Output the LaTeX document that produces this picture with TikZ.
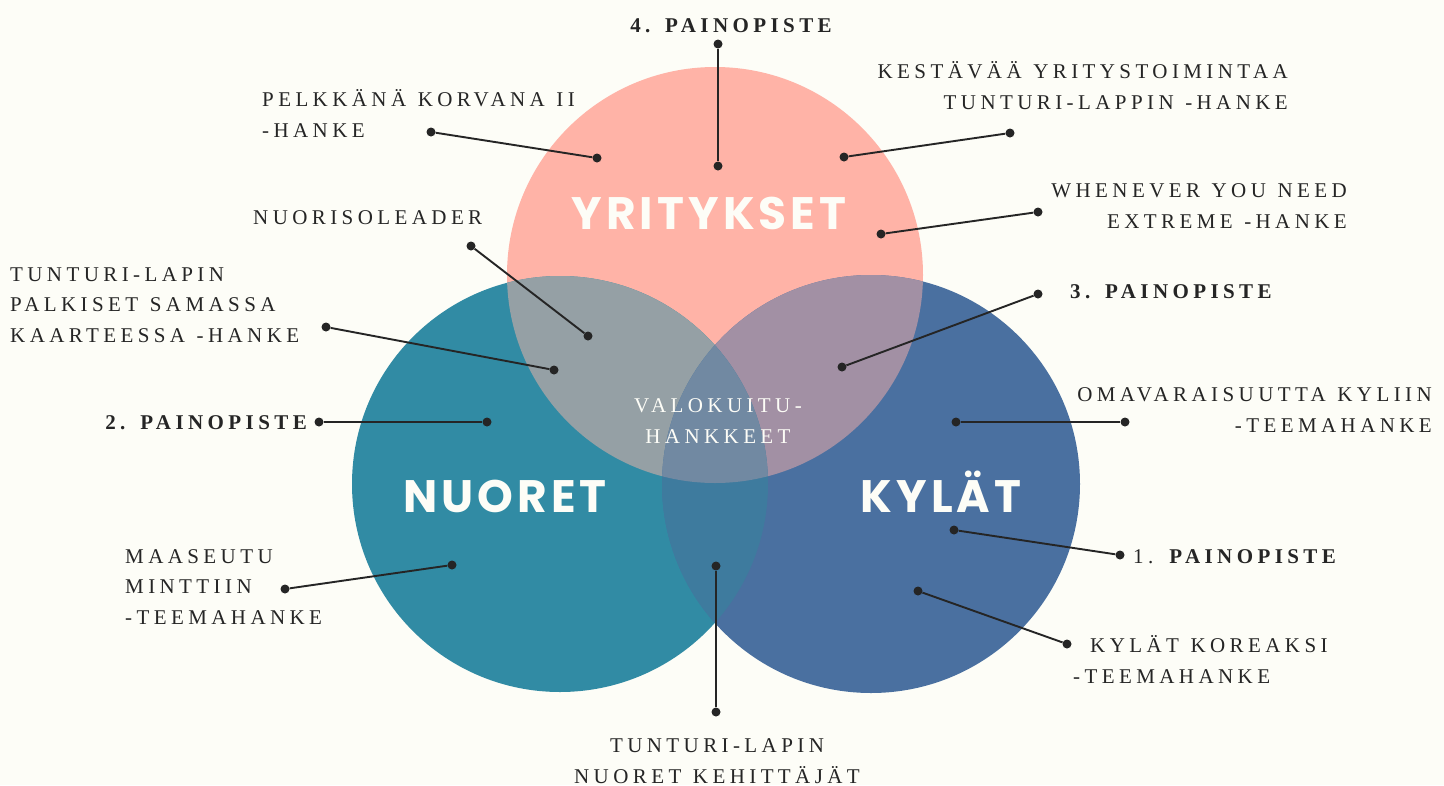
\documentclass[tikz,border=0pt]{standalone}
\usepackage{fontspec}
\setmainfont{Liberation Serif}
\newfontfamily\lblfont{Liberation Serif}[LetterSpace=21,WordSpace=1.2]
\newfontfamily\bigfont{Poppins}[LetterSpace=9]

\definecolor{bgcol}{HTML}{FDFDF7}
\definecolor{inkcol}{HTML}{252525}
\definecolor{ycol}{HTML}{FFB3A7}
\definecolor{ncol}{HTML}{318BA4}
\definecolor{kcol}{HTML}{4A70A0}
\definecolor{yncol}{HTML}{95A0A5}
\definecolor{ykcol}{HTML}{A290A4}
\definecolor{nkcol}{HTML}{3E7B9E}
\definecolor{allcol}{HTML}{7189A2}

\tikzstyle{dot} = [fill=inkcol, circle, inner sep=0pt, minimum size=9pt]
\tikzstyle{link} = [color=inkcol, line width=1.9pt]
\tikzstyle{lbl} = [font=\lblfont\fontsize{21}{30.5}\selectfont, text=inkcol, inner sep=0pt]
\tikzstyle{key} = [lbl, font=\lblfont\bfseries\fontsize{21}{30.5}\selectfont]
\tikzstyle{big} = [font=\bigfont\bfseries\fontsize{45.5}{50}\selectfont, text=bgcol, inner sep=0pt]

\begin{document}
\begin{tikzpicture}[x=1pt,y=-1pt]
\fill[bgcol] (0,0) rectangle (1444,785);
\useasboundingbox (0,0) rectangle (1444,785);

% the three circles
\coordinate (cy) at (715,275);
\coordinate (cn) at (560,484);
\coordinate (ck) at (871,484);
\fill[ycol] (cy) circle[radius=208pt];
\fill[ncol] (cn) circle[radius=208pt];
\fill[kcol] (ck) circle[radius=209pt];
\begin{scope}
\clip (cy) circle[radius=208pt];
\fill[yncol] (cn) circle[radius=208pt];
\fill[ykcol] (ck) circle[radius=209pt];
\end{scope}
\begin{scope}
\clip (cn) circle[radius=208pt];
\fill[nkcol] (ck) circle[radius=209pt];
\clip (cy) circle[radius=208pt];
\fill[allcol] (ck) circle[radius=209pt];
\end{scope}

% dots
\node[dot] (p4a) at (718,44) {};
\node[dot] (p4b) at (718,166) {};
\node[dot] (pka) at (431,132) {};
\node[dot] (pkb) at (597,158) {};
\node[dot] (kea) at (1010,133) {};
\node[dot] (keb) at (844,157) {};
\node[dot] (wha) at (1038,212) {};
\node[dot] (whb) at (881,234) {};
\node[dot] (nla) at (471,246) {};
\node[dot] (nlb) at (588,336) {};
\node[dot] (tpa) at (326,327) {};
\node[dot] (tpb) at (554,370) {};
\node[dot] (p3a) at (1038,294) {};
\node[dot] (p3b) at (842,367) {};
\node[dot] (p2a) at (319,422) {};
\node[dot] (p2b) at (487,422) {};
\node[dot] (oma) at (1125,422) {};
\node[dot] (omb) at (956,422) {};
\node[dot] (p1a) at (1120,555) {};
\node[dot] (p1b) at (954,530) {};
\node[dot] (maa) at (285,589) {};
\node[dot] (mab) at (452,565) {};
\node[dot] (kka) at (1067,644) {};
\node[dot] (kkb) at (918,591) {};
\node[dot] (tna) at (716,712) {};
\node[dot] (tnb) at (716,566) {};

\path[link]
(p4a) edge [] (p4b)
(pka) edge [] (pkb)
(kea) edge [] (keb)
(wha) edge [] (whb)
(nla) edge [] (nlb)
(tpa) edge [] (tpb)
(p3a) edge [] (p3b)
(p2a) edge [] (p2b)
(oma) edge [] (omb)
(p1a) edge [] (p1b)
(maa) edge [] (mab)
(kka) edge [] (kkb)
(tna) edge [] (tnb);

% texts
\node[key, anchor=base] (t4) at (731,32) {4. PAINOPISTE};
\node[lbl, anchor=base west, align=left] (tpk) at (262,137) {PELKKÄNÄ KORVANA II\\-HANKE};
\node[lbl, anchor=base east, align=right] (tke) at (1288,109) {KESTÄVÄÄ YRITYSTOIMINTAA\\TUNTURI-LAPPIN -HANKE};
\node[lbl, anchor=base east, align=right] (twh) at (1347,228) {WHENEVER YOU NEED\\EXTREME -HANKE};
\node[lbl, anchor=base west] (tnl) at (253,224) {NUORISOLEADER};
\node[lbl, anchor=base west, align=left] (ttp) at (10,342) {TUNTURI-LAPIN\\PALKISET SAMASSA\\KAARTEESSA -HANKE};
\node[key, anchor=base east] (t2) at (307,429) {2. PAINOPISTE};
\node[key, anchor=base west] (t3) at (1070,298) {3. PAINOPISTE};
\node[lbl, anchor=base east, align=right] (tom) at (1432,432) {OMAVARAISUUTTA KYLIIN\\-TEEMAHANKE};
\node[lbl, anchor=base west] (t1) at (1133,563) {1.\ \textbf{PAINOPISTE}};
\node[lbl, anchor=base west, align=left] (tkk) at (1073,683) {\hspace*{17pt}KYLÄT KOREAKSI\\-TEEMAHANKE};
\node[lbl, anchor=base west, align=left] (tma) at (125,624) {MAASEUTU\\MINTTIIN\\-TEEMAHANKE};
\node[lbl, anchor=base, align=center] (ttn) at (717,783) {TUNTURI-LAPIN\\NUORET KEHITTÄJÄT};
\node[lbl, text=bgcol, anchor=base, align=center] (val) at (718,443) {VALOKUITU-\\HANKKEET};
\node[big, anchor=base] (yri) at (709,229) {YRITYKSET};
\node[big, anchor=base] (nuo) at (505,512) {NUORET};
\node[big, anchor=base] (kyl) at (941,512) {KYLÄT};
\end{tikzpicture}
\end{document}
